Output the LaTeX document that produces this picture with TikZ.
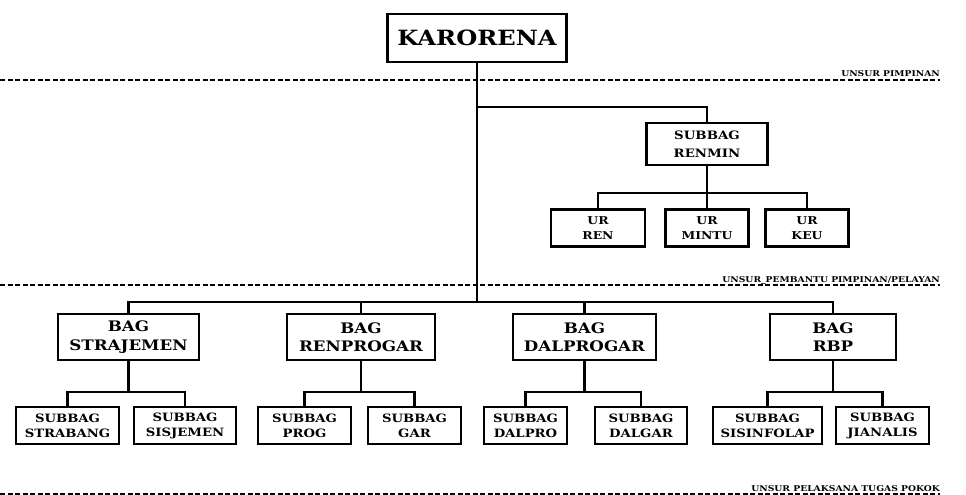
\documentclass[tikz,border=0pt]{standalone}
\usepackage{fontspec}
\setmainfont{DejaVu Serif}[FakeStretch=1.15]

\begin{document}
\begin{tikzpicture}[x=1pt,y=-1pt,
  box/.style={draw,line width=2.6pt,align=center,inner sep=0pt},
  head/.style={box,font=\bfseries\fontsize{21}{24}\selectfont,minimum width=179pt,minimum height=48pt},
  chief/.style={box,font=\bfseries\fontsize{11.6}{17.5}\selectfont,minimum height=42pt},
  bag/.style={box,font=\bfseries\fontsize{14.5}{18.5}\selectfont,minimum height=46pt},
  ur/.style={box,font=\bfseries\fontsize{10.8}{15}\selectfont,minimum height=37pt},
  sub/.style={box,font=\bfseries\fontsize{11.5}{15}\selectfont,minimum height=37pt},
  link/.style={line width=2.6pt},
  sep/.style={line width=1.2pt,dash pattern=on 5pt off 2.5pt},
  lbl/.style={anchor=base east,inner sep=0pt,font=\bfseries\fontsize{8}{9}\selectfont}]
  \useasboundingbox (0,0) rectangle (966,495);

  % unsur pimpinan
  \node[head] (karorena) at (477,38) {KARORENA};
  \draw[sep] (0,80) -- (940,80);
  \node[lbl] (lpimpinan) at (940,77) {UNSUR PIMPINAN};

  % subbag renmin
  \node[chief,minimum width=121pt] (renmin) at (707,144) {SUBBAG\\RENMIN};
  \node[ur,minimum width=94pt] (ren) at (598,228) {UR\\REN};
  \node[ur,minimum width=83pt] (mintu) at (707,228) {UR\\MINTU};
  \node[ur,minimum width=83pt] (keu) at (807,228) {UR\\KEU};
  \draw[sep] (0,285) -- (940,285);
  \node[lbl] (lpembantu) at (940,282) {UNSUR\_PEMBANTU PIMPINAN/PELAYAN};

  % bag
  \node[bag,minimum width=141pt] (strajemen) at (128.5,337) {BAG\\STRAJEMEN};
  \node[bag,minimum width=148pt] (renprogar) at (361,337) {BAG\\RENPROGAR};
  \node[bag,minimum width=143pt] (dalprogar) at (584.5,337) {BAG\\DALPROGAR};
  \node[bag,minimum width=126pt] (rbp) at (833,337) {BAG\\RBP};

  \node[sub,minimum width=103pt] (strabang) at (67.5,425.5) {SUBBAG\\STRABANG};
  \node[sub,minimum width=102pt] (sisjemen) at (185,425.5) {SUBBAG\\SISJEMEN};
  \node[sub,minimum width=93pt] (prog) at (304.5,425.5) {SUBBAG\\PROG};
  \node[sub,minimum width=93pt] (gar) at (414.5,425.5) {SUBBAG\\GAR};
  \node[sub,minimum width=83pt] (dalpro) at (525.5,425.5) {SUBBAG\\DALPRO};
  \node[sub,minimum width=92pt] (dalgar) at (641,425.5) {SUBBAG\\DALGAR};
  \node[sub,minimum width=109pt] (sisinfolap) at (767.5,425.5) {SUBBAG\\SISINFOLAP};
  \node[sub,minimum width=93pt] (jianalis) at (882.5,425.5) {SUBBAG\\JIANALIS};
  \draw[sep] (0,494) -- (940,494);
  \node[lbl] (lpelaksana) at (940,491) {UNSUR PELAKSANA TUGAS POKOK};

  % garis
  \coordinate (renminbus) at (477,107);
  \coordinate (bagbus) at (477,302);
  \coordinate (urbus) at (0,193);
  \coordinate (subbus) at (0,392);
  \draw[link] (karorena.south) -- (bagbus);
  \draw[link] (renminbus) -| (renmin.north);
  \draw[link] (renmin.south) -- (mintu.north);
  \draw[link] (ren.north) |- (renmin.south |- urbus) -| (keu.north);
  \draw[link] (strajemen.north) |- (bagbus) -| (rbp.north);
  \foreach \b in {renprogar,dalprogar}
    \draw[link] (\b.north) -- (\b.north |- bagbus);
  \foreach \b/\l/\r in {strajemen/strabang/sisjemen,renprogar/prog/gar,dalprogar/dalpro/dalgar,rbp/sisinfolap/jianalis}
    \draw[link] (\b.south) -- (\b.south |- subbus) (\l.north) |- (\b.south |- subbus) -| (\r.north);
\end{tikzpicture}
\end{document}
